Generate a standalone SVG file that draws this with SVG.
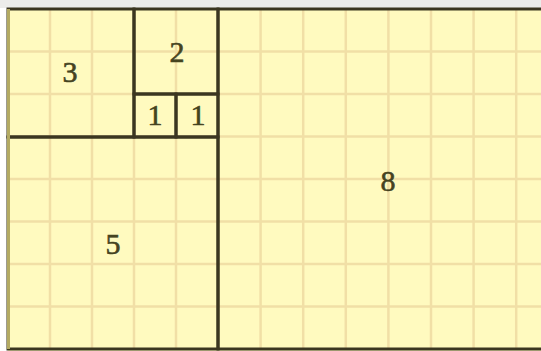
<svg xmlns="http://www.w3.org/2000/svg" width="541" height="351" viewBox="0 0 541 351">
<style>
.grid line{stroke:#f1dfa6;stroke-width:2.5}
.sq{fill:none;stroke:#3b3620;stroke-width:3}
.lbl{font-family:"Liberation Serif","Times New Roman",serif;font-size:30px;fill:#45431f;stroke:#45431f;stroke-width:0.6;text-anchor:middle}
</style>
<rect x="0" y="0" width="541" height="351" fill="#ffffff"/>
<rect x="0" y="0" width="541" height="8" fill="#ececea"/>
<rect x="8" y="9" width="533" height="342" fill="#fffabf"/>
<g class="grid">
<line x1="50" y1="9" x2="50" y2="349"/>
<line x1="92" y1="9" x2="92" y2="349"/>
<line x1="134" y1="9" x2="134" y2="349"/>
<line x1="176" y1="9" x2="176" y2="349"/>
<line x1="260.6" y1="9" x2="260.6" y2="349"/>
<line x1="303.2" y1="9" x2="303.2" y2="349"/>
<line x1="345.8" y1="9" x2="345.8" y2="349"/>
<line x1="388.4" y1="9" x2="388.4" y2="349"/>
<line x1="431" y1="9" x2="431" y2="349"/>
<line x1="473.6" y1="9" x2="473.6" y2="349"/>
<line x1="516.2" y1="9" x2="516.2" y2="349"/>
<line x1="8" y1="51.5" x2="541" y2="51.5"/>
<line x1="8" y1="94" x2="541" y2="94"/>
<line x1="8" y1="136.5" x2="541" y2="136.5"/>
<line x1="8" y1="179" x2="541" y2="179"/>
<line x1="8" y1="221.5" x2="541" y2="221.5"/>
<line x1="8" y1="264" x2="541" y2="264"/>
<line x1="8" y1="306.5" x2="541" y2="306.5"/>
</g>
<g id="square-8">
<rect class="sq" x="218" y="9" width="340" height="340"/>
<text class="lbl" x="388" y="191">8</text>
</g>
<g id="square-5">
<rect class="sq" x="8" y="137" width="210" height="212"/>
<text class="lbl" x="113" y="254">5</text>
</g>
<g id="square-3">
<rect class="sq" x="8" y="9" width="126" height="128"/>
<text class="lbl" x="70" y="82">3</text>
</g>
<g id="square-2">
<rect class="sq" x="134" y="9" width="84" height="85"/>
<text class="lbl" x="177" y="62">2</text>
</g>
<g id="square-1a">
<rect class="sq" x="134" y="94" width="42" height="43"/>
<text class="lbl" x="155" y="125">1</text>
</g>
<g id="square-1b">
<rect class="sq" x="176" y="94" width="42" height="43"/>
<text class="lbl" x="198" y="125">1</text>
</g>
<line x1="8.5" y1="9" x2="8.5" y2="349" stroke="#b3aa62" stroke-width="3"/>
<g id="connectors"/>
</svg>
